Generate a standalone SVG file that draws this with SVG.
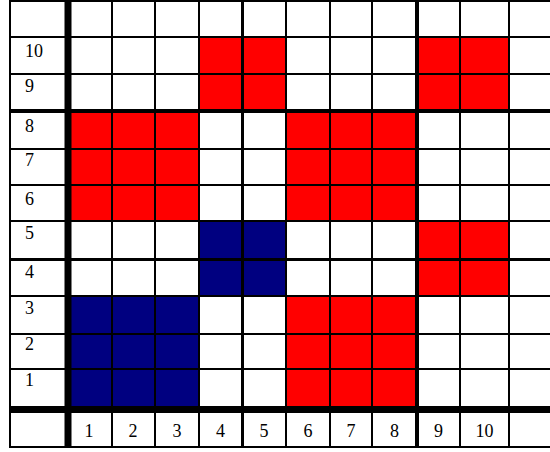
<svg xmlns="http://www.w3.org/2000/svg" width="550" height="452" viewBox="0 0 550 452">
<style>
.red{fill:#FF0000}
.blue{fill:#000080}
.ln{stroke:#000;fill:none;stroke-width:2}
.t{font-family:"Liberation Serif","Times New Roman","DejaVu Serif",serif;font-size:18px;fill:#000}
.c{text-anchor:middle}
</style>
<rect width="550" height="452" fill="#fff"/>
<g id="cells">
<rect class="red" x="199" y="37" width="87" height="75"/>
<rect class="red" x="417" y="37" width="92" height="75"/>
<rect class="red" x="68" y="111" width="131" height="110"/>
<rect class="red" x="286" y="111" width="131" height="110"/>
<rect class="blue" x="199" y="221" width="87" height="75"/>
<rect class="red" x="417" y="221" width="92" height="75"/>
<rect class="blue" x="68" y="296" width="131" height="114"/>
<rect class="red" x="286" y="296" width="131" height="114"/>
</g>
<g id="grid" class="ln">
<line x1="9" y1="1" x2="550" y2="1"/>
<line x1="9" y1="37" x2="550" y2="37"/>
<line x1="9" y1="74" x2="550" y2="74"/>
<line x1="9" y1="111" x2="550" y2="111" stroke-width="4"/>
<line x1="9" y1="149" x2="550" y2="149"/>
<line x1="9" y1="185" x2="550" y2="185"/>
<line x1="9" y1="221" x2="550" y2="221"/>
<line x1="9" y1="259.5" x2="550" y2="259.5" stroke-width="3"/>
<line x1="9" y1="296" x2="550" y2="296"/>
<line x1="9" y1="334" x2="550" y2="334"/>
<line x1="9" y1="369" x2="550" y2="369"/>
<line x1="9" y1="409.5" x2="550" y2="409.5" stroke-width="7"/>
<line x1="9" y1="447" x2="550" y2="447"/>
<line x1="10" y1="0" x2="10" y2="448"/>
<line x1="68" y1="0" x2="68" y2="448" stroke-width="7"/>
<line x1="112" y1="0" x2="112" y2="448"/>
<line x1="155" y1="0" x2="155" y2="448"/>
<line x1="199" y1="0" x2="199" y2="448"/>
<line x1="242.5" y1="0" x2="242.5" y2="448" stroke-width="3"/>
<line x1="286" y1="0" x2="286" y2="448"/>
<line x1="330" y1="0" x2="330" y2="448"/>
<line x1="372" y1="0" x2="372" y2="448"/>
<line x1="417" y1="0" x2="417" y2="448" stroke-width="4"/>
<line x1="460" y1="0" x2="460" y2="448"/>
<line x1="509" y1="0" x2="509" y2="448"/>
</g>
<g id="row-labels" class="t">
<text x="25" y="57">10</text>
<text x="25" y="92">9</text>
<text x="25" y="132">8</text>
<text x="25" y="166">7</text>
<text x="25" y="205">6</text>
<text x="25" y="239">5</text>
<text x="25" y="278">4</text>
<text x="25" y="314">3</text>
<text x="25" y="350">2</text>
<text x="25" y="386">1</text>
</g>
<g id="col-labels" class="t c">
<text x="89" y="437">1</text>
<text x="133" y="437">2</text>
<text x="177" y="437">3</text>
<text x="220.5" y="437">4</text>
<text x="264" y="437">5</text>
<text x="308" y="437">6</text>
<text x="351" y="437">7</text>
<text x="394.5" y="437">8</text>
<text x="438.5" y="437">9</text>
<text x="484.5" y="437">10</text>
</g>
</svg>
